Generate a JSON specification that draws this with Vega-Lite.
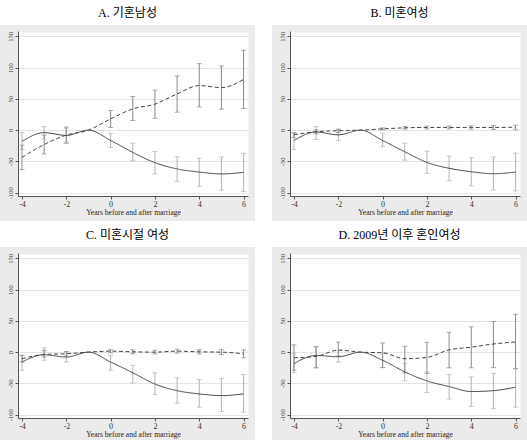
{
  "$schema": "https://vega.github.io/schema/vega-lite/v6.json",
  "background": "white",
  "padding": {"left": 0, "top": 7, "right": 0, "bottom": 0},
  "config": {
    "view": {"fill": "#ebebeb", "stroke": null},
    "title": {"font": "'Liberation Serif', 'Noto Sans CJK KR'", "fontSize": 12, "fontWeight": "normal", "color": "#000000", "offset": 5, "anchor": "middle"},
    "axis": {"labelFont": "Liberation Serif", "titleFont": "Liberation Serif"}
  },
  "data": {"values": [
    {"p":"A","s":"s1","x":-4,"est":-18,"lo":-31,"hi":-4},
    {"p":"A","s":"s1","x":-3,"est":-4,"lo":-14,"hi":6},
    {"p":"A","s":"s1","x":-2,"est":-8.5,"lo":-19,"hi":3},
    {"p":"A","s":"s1","x":-1,"est":0},
    {"p":"A","s":"s1","x":0,"est":-16.5,"lo":-27.7,"hi":-5},
    {"p":"A","s":"s1","x":1,"est":-35.6,"lo":-49,"hi":-21},
    {"p":"A","s":"s1","x":2,"est":-52,"lo":-70,"hi":-34},
    {"p":"A","s":"s1","x":3,"est":-62,"lo":-82,"hi":-42.5},
    {"p":"A","s":"s1","x":4,"est":-67,"lo":-90,"hi":-45},
    {"p":"A","s":"s1","x":5,"est":-70,"lo":-96,"hi":-43},
    {"p":"A","s":"s1","x":6,"est":-67.5,"lo":-98,"hi":-37},
    {"p":"A","s":"s2","x":-4,"est":-43.6,"lo":-63,"hi":-24},
    {"p":"A","s":"s2","x":-3,"est":-23,"lo":-38,"hi":-8},
    {"p":"A","s":"s2","x":-2,"est":-8,"lo":-21,"hi":5},
    {"p":"A","s":"s2","x":-1,"est":0},
    {"p":"A","s":"s2","x":0,"est":18,"lo":4.3,"hi":31.4},
    {"p":"A","s":"s2","x":1,"est":34,"lo":15.4,"hi":53.7},
    {"p":"A","s":"s2","x":2,"est":41.5,"lo":19,"hi":64},
    {"p":"A","s":"s2","x":3,"est":58,"lo":28.7,"hi":86.7},
    {"p":"A","s":"s2","x":4,"est":71.3,"lo":37,"hi":106.4},
    {"p":"A","s":"s2","x":5,"est":68,"lo":33.5,"hi":102.7},
    {"p":"A","s":"s2","x":6,"est":81,"lo":34.6,"hi":127.7},
    {"p":"B","s":"s1","x":-4,"est":-16.5,"lo":-31,"hi":-5},
    {"p":"B","s":"s1","x":-3,"est":-3,"lo":-15,"hi":6},
    {"p":"B","s":"s1","x":-2,"est":-7.5,"lo":-16.5,"hi":1},
    {"p":"B","s":"s1","x":-1,"est":0},
    {"p":"B","s":"s1","x":0,"est":-16.5,"lo":-26.6,"hi":-5},
    {"p":"B","s":"s1","x":1,"est":-34.6,"lo":-48,"hi":-21},
    {"p":"B","s":"s1","x":2,"est":-51.6,"lo":-69,"hi":-33.5},
    {"p":"B","s":"s1","x":3,"est":-61,"lo":-81,"hi":-41.5},
    {"p":"B","s":"s1","x":4,"est":-66.5,"lo":-89,"hi":-44},
    {"p":"B","s":"s1","x":5,"est":-69.7,"lo":-95.7,"hi":-43},
    {"p":"B","s":"s1","x":6,"est":-67,"lo":-97,"hi":-36.7},
    {"p":"B","s":"s2","x":-4,"est":-7.5,"lo":-12,"hi":-4},
    {"p":"B","s":"s2","x":-3,"est":-2.6,"lo":-6,"hi":0.5},
    {"p":"B","s":"s2","x":-2,"est":-1,"lo":-3.7,"hi":1.6},
    {"p":"B","s":"s2","x":-1,"est":0},
    {"p":"B","s":"s2","x":0,"est":2,"lo":0.5,"hi":3.7},
    {"p":"B","s":"s2","x":1,"est":3.7,"lo":1.6,"hi":5.8},
    {"p":"B","s":"s2","x":2,"est":4.3,"lo":2,"hi":6.4},
    {"p":"B","s":"s2","x":3,"est":4.3,"lo":2,"hi":6.6},
    {"p":"B","s":"s2","x":4,"est":4.3,"lo":1.6,"hi":7},
    {"p":"B","s":"s2","x":5,"est":4.3,"lo":1,"hi":7.4},
    {"p":"B","s":"s2","x":6,"est":4.8,"lo":0.5,"hi":8},
    {"p":"C","s":"s1","x":-4,"est":-15.8,"lo":-29,"hi":-5.3},
    {"p":"C","s":"s1","x":-3,"est":-4.2,"lo":-13,"hi":6.8},
    {"p":"C","s":"s1","x":-2,"est":-7.9,"lo":-15.8,"hi":0},
    {"p":"C","s":"s1","x":-1,"est":0},
    {"p":"C","s":"s1","x":0,"est":-15.8,"lo":-29,"hi":-5},
    {"p":"C","s":"s1","x":1,"est":-33,"lo":-49,"hi":-21},
    {"p":"C","s":"s1","x":2,"est":-51,"lo":-68,"hi":-33},
    {"p":"C","s":"s1","x":3,"est":-61.6,"lo":-81.5,"hi":-41},
    {"p":"C","s":"s1","x":4,"est":-66.8,"lo":-88,"hi":-43.7},
    {"p":"C","s":"s1","x":5,"est":-69.5,"lo":-94.7,"hi":-42},
    {"p":"C","s":"s1","x":6,"est":-66.8,"lo":-96,"hi":-35.8},
    {"p":"C","s":"s2","x":-4,"est":-10.5,"lo":-16,"hi":-5},
    {"p":"C","s":"s2","x":-3,"est":-3.7,"lo":-8,"hi":2.6},
    {"p":"C","s":"s2","x":-2,"est":-2.6,"lo":-6.3,"hi":1},
    {"p":"C","s":"s2","x":-1,"est":0},
    {"p":"C","s":"s2","x":0,"est":1.6,"lo":-1,"hi":4},
    {"p":"C","s":"s2","x":1,"est":0.5,"lo":-2.6,"hi":3.7},
    {"p":"C","s":"s2","x":2,"est":0,"lo":-3,"hi":3},
    {"p":"C","s":"s2","x":3,"est":1.6,"lo":-1.6,"hi":4.7},
    {"p":"C","s":"s2","x":4,"est":0.5,"lo":-3,"hi":4},
    {"p":"C","s":"s2","x":5,"est":0,"lo":-4,"hi":4},
    {"p":"C","s":"s2","x":6,"est":-2.6,"lo":-9,"hi":3.7},
    {"p":"D","s":"s1","x":-4,"est":-18.4,"lo":-33,"hi":-2.6},
    {"p":"D","s":"s1","x":-3,"est":-5.3,"lo":-25,"hi":8},
    {"p":"D","s":"s1","x":-2,"est":-7.4,"lo":-16,"hi":3},
    {"p":"D","s":"s1","x":-1,"est":0},
    {"p":"D","s":"s1","x":0,"est":-13,"lo":-24.7,"hi":-2.6},
    {"p":"D","s":"s1","x":1,"est":-31.6,"lo":-46,"hi":-18},
    {"p":"D","s":"s1","x":2,"est":-46,"lo":-64.7,"hi":-31.6},
    {"p":"D","s":"s1","x":3,"est":-55,"lo":-75,"hi":-35.8},
    {"p":"D","s":"s1","x":4,"est":-63,"lo":-87,"hi":-39.5},
    {"p":"D","s":"s1","x":5,"est":-61.6,"lo":-90.5,"hi":-34},
    {"p":"D","s":"s1","x":6,"est":-56,"lo":-88,"hi":-27},
    {"p":"D","s":"s2","x":-4,"est":-9,"lo":-29,"hi":11.6},
    {"p":"D","s":"s2","x":-3,"est":-6.8,"lo":-25,"hi":9},
    {"p":"D","s":"s2","x":-2,"est":3.2,"lo":-6,"hi":16},
    {"p":"D","s":"s2","x":-1,"est":0},
    {"p":"D","s":"s2","x":0,"est":-1,"lo":-24.7,"hi":14.7},
    {"p":"D","s":"s2","x":1,"est":-10.5,"lo":-33,"hi":9.5},
    {"p":"D","s":"s2","x":2,"est":-8.4,"lo":-34,"hi":15.8},
    {"p":"D","s":"s2","x":3,"est":3.7,"lo":-25,"hi":31.6},
    {"p":"D","s":"s2","x":4,"est":7.9,"lo":-25,"hi":40.5},
    {"p":"D","s":"s2","x":5,"est":13,"lo":-24.7,"hi":49},
    {"p":"D","s":"s2","x":6,"est":16.3,"lo":-26,"hi":60.5}
  ]},
  "columns": 2,
  "spacing": {"row": 26, "column": 17},
  "bounds": "flush",
  "concat": [
    {
      "title": "A. 기혼남성",
      "width": 255, "height": 196,
      "transform": [{"filter": "datum.p === 'A'"}],
      "resolve": {"axis": {"y": "independent"}},
      "layer": [
        {"mark": {"type": "rule", "strokeWidth": 1},
         "encoding": {
           "x": {"field": "x", "type": "quantitative", "scale": {"domain": [-4.18, 6.2], "range": [18, 248], "nice": false, "zero": false}},
           "y": {"field": "lo", "type": "quantitative", "scale": {"domain": [-105.3, 158.5], "range": [171, 6], "nice": false, "zero": false},
                 "axis": {"orient": "left", "offset": -18, "values": [26.6], "grid": true, "gridColor": "#ffffff", "gridWidth": 164, "domain": false, "ticks": false, "labels": false, "title": null}},
           "y2": {"field": "hi"},
           "color": {"field": "s", "type": "nominal", "scale": {"domain": ["s1", "s2"], "range": ["#b4b4b4", "#8a8a8a"]}, "legend": null}
         }},
        {"transform": [{"fold": ["lo", "hi"], "as": ["k", "v"]}],
         "mark": {"type": "tick", "orient": "horizontal", "size": 5, "thickness": 1},
         "encoding": {
           "x": {"field": "x", "type": "quantitative"},
           "y": {"field": "v", "type": "quantitative", "axis": null},
           "color": {"field": "s", "type": "nominal", "legend": null}
         }},
        {"mark": {"type": "line", "color": "#444444", "strokeWidth": 1, "interpolate": "monotone"},
         "encoding": {
           "x": {"field": "x", "type": "quantitative",
                 "axis": {"orient": "bottom", "offset": -25, "values": [-4,-2,0,2,4,6], "grid": false, "domainColor": "#555555", "tickColor": "#555555", "tickSize": 3, "labelFontSize": 8, "labelColor": "#333333", "labelPadding": 1, "labelFlush": false, "labelExpr": "'' + datum.value", "title": "Years before and after marriage", "titleFontSize": 7.5, "titleFontWeight": "normal", "titleColor": "#222222", "titlePadding": 0}},
           "y": {"field": "est", "type": "quantitative",
                 "axis": {"orient": "left", "offset": -18, "values": [-100, -50, 0, 50, 100, 150], "grid": true, "gridColor": "#e4e4e4", "gridWidth": 1, "domainColor": "#555555", "tickColor": "#555555", "tickSize": 3, "labelAngle": -90, "labelAlign": "center", "labelBaseline": "bottom", "labelFontSize": 6.5, "labelColor": "#333333", "labelPadding": 1.5, "labelFlush": false, "labelOverlap": false, "labelExpr": "'' + datum.value", "title": null}},
           "strokeDash": {"field": "s", "type": "nominal", "scale": {"domain": ["s1", "s2"], "range": [[1, 0], [4, 2.5]]}, "legend": null}
         }}
      ]
    },
    {
      "title": "B. 미혼여성",
      "width": 255, "height": 196,
      "transform": [{"filter": "datum.p === 'B'"}],
      "resolve": {"axis": {"y": "independent"}},
      "layer": [
        {"mark": {"type": "rule", "strokeWidth": 1},
         "encoding": {
           "x": {"field": "x", "type": "quantitative", "scale": {"domain": [-4.18, 6.2], "range": [18, 248], "nice": false, "zero": false}},
           "y": {"field": "lo", "type": "quantitative", "scale": {"domain": [-105.3, 158.5], "range": [171, 6], "nice": false, "zero": false},
                 "axis": {"orient": "left", "offset": -18, "values": [26.6], "grid": true, "gridColor": "#ffffff", "gridWidth": 164, "domain": false, "ticks": false, "labels": false, "title": null}},
           "y2": {"field": "hi"},
           "color": {"field": "s", "type": "nominal", "scale": {"domain": ["s1", "s2"], "range": ["#b4b4b4", "#8a8a8a"]}, "legend": null}
         }},
        {"transform": [{"fold": ["lo", "hi"], "as": ["k", "v"]}],
         "mark": {"type": "tick", "orient": "horizontal", "size": 5, "thickness": 1},
         "encoding": {
           "x": {"field": "x", "type": "quantitative"},
           "y": {"field": "v", "type": "quantitative", "axis": null},
           "color": {"field": "s", "type": "nominal", "legend": null}
         }},
        {"mark": {"type": "line", "color": "#444444", "strokeWidth": 1, "interpolate": "monotone"},
         "encoding": {
           "x": {"field": "x", "type": "quantitative",
                 "axis": {"orient": "bottom", "offset": -25, "values": [-4,-2,0,2,4,6], "grid": false, "domainColor": "#555555", "tickColor": "#555555", "tickSize": 3, "labelFontSize": 8, "labelColor": "#333333", "labelPadding": 1, "labelFlush": false, "labelExpr": "'' + datum.value", "title": "Years before and after marriage", "titleFontSize": 7.5, "titleFontWeight": "normal", "titleColor": "#222222", "titlePadding": 0}},
           "y": {"field": "est", "type": "quantitative",
                 "axis": {"orient": "left", "offset": -18, "values": [-100, -50, 0, 50, 100, 150], "grid": true, "gridColor": "#e4e4e4", "gridWidth": 1, "domainColor": "#555555", "tickColor": "#555555", "tickSize": 3, "labelAngle": -90, "labelAlign": "center", "labelBaseline": "bottom", "labelFontSize": 6.5, "labelColor": "#333333", "labelPadding": 1.5, "labelFlush": false, "labelOverlap": false, "labelExpr": "'' + datum.value", "title": null}},
           "strokeDash": {"field": "s", "type": "nominal", "scale": {"domain": ["s1", "s2"], "range": [[1, 0], [4, 2.5]]}, "legend": null}
         }}
      ]
    },
    {
      "title": "C. 미혼시절 여성",
      "width": 255, "height": 196,
      "transform": [{"filter": "datum.p === 'C'"}],
      "resolve": {"axis": {"y": "independent"}},
      "layer": [
        {"mark": {"type": "rule", "strokeWidth": 1},
         "encoding": {
           "x": {"field": "x", "type": "quantitative", "scale": {"domain": [-4.18, 6.2], "range": [18, 248], "nice": false, "zero": false}},
           "y": {"field": "lo", "type": "quantitative", "scale": {"domain": [-105.3, 158.5], "range": [171, 6], "nice": false, "zero": false},
                 "axis": {"orient": "left", "offset": -18, "values": [26.6], "grid": true, "gridColor": "#ffffff", "gridWidth": 164, "domain": false, "ticks": false, "labels": false, "title": null}},
           "y2": {"field": "hi"},
           "color": {"field": "s", "type": "nominal", "scale": {"domain": ["s1", "s2"], "range": ["#b4b4b4", "#8a8a8a"]}, "legend": null}
         }},
        {"transform": [{"fold": ["lo", "hi"], "as": ["k", "v"]}],
         "mark": {"type": "tick", "orient": "horizontal", "size": 5, "thickness": 1},
         "encoding": {
           "x": {"field": "x", "type": "quantitative"},
           "y": {"field": "v", "type": "quantitative", "axis": null},
           "color": {"field": "s", "type": "nominal", "legend": null}
         }},
        {"mark": {"type": "line", "color": "#444444", "strokeWidth": 1, "interpolate": "monotone"},
         "encoding": {
           "x": {"field": "x", "type": "quantitative",
                 "axis": {"orient": "bottom", "offset": -25, "values": [-4,-2,0,2,4,6], "grid": false, "domainColor": "#555555", "tickColor": "#555555", "tickSize": 3, "labelFontSize": 8, "labelColor": "#333333", "labelPadding": 1, "labelFlush": false, "labelExpr": "'' + datum.value", "title": "Years before and after marriage", "titleFontSize": 7.5, "titleFontWeight": "normal", "titleColor": "#222222", "titlePadding": 0}},
           "y": {"field": "est", "type": "quantitative",
                 "axis": {"orient": "left", "offset": -18, "values": [-100, -50, 0, 50, 100, 150], "grid": true, "gridColor": "#e4e4e4", "gridWidth": 1, "domainColor": "#555555", "tickColor": "#555555", "tickSize": 3, "labelAngle": -90, "labelAlign": "center", "labelBaseline": "bottom", "labelFontSize": 6.5, "labelColor": "#333333", "labelPadding": 1.5, "labelFlush": false, "labelOverlap": false, "labelExpr": "'' + datum.value", "title": null}},
           "strokeDash": {"field": "s", "type": "nominal", "scale": {"domain": ["s1", "s2"], "range": [[1, 0], [4, 2.5]]}, "legend": null}
         }}
      ]
    },
    {
      "title": "D. 2009년 이후 혼인여성",
      "width": 255, "height": 196,
      "transform": [{"filter": "datum.p === 'D'"}],
      "resolve": {"axis": {"y": "independent"}},
      "layer": [
        {"mark": {"type": "rule", "strokeWidth": 1},
         "encoding": {
           "x": {"field": "x", "type": "quantitative", "scale": {"domain": [-4.18, 6.2], "range": [18, 248], "nice": false, "zero": false}},
           "y": {"field": "lo", "type": "quantitative", "scale": {"domain": [-105.3, 158.5], "range": [171, 6], "nice": false, "zero": false},
                 "axis": {"orient": "left", "offset": -18, "values": [26.6], "grid": true, "gridColor": "#ffffff", "gridWidth": 164, "domain": false, "ticks": false, "labels": false, "title": null}},
           "y2": {"field": "hi"},
           "color": {"field": "s", "type": "nominal", "scale": {"domain": ["s1", "s2"], "range": ["#b4b4b4", "#8a8a8a"]}, "legend": null}
         }},
        {"transform": [{"fold": ["lo", "hi"], "as": ["k", "v"]}],
         "mark": {"type": "tick", "orient": "horizontal", "size": 5, "thickness": 1},
         "encoding": {
           "x": {"field": "x", "type": "quantitative"},
           "y": {"field": "v", "type": "quantitative", "axis": null},
           "color": {"field": "s", "type": "nominal", "legend": null}
         }},
        {"mark": {"type": "line", "color": "#444444", "strokeWidth": 1, "interpolate": "monotone"},
         "encoding": {
           "x": {"field": "x", "type": "quantitative",
                 "axis": {"orient": "bottom", "offset": -25, "values": [-4,-2,0,2,4,6], "grid": false, "domainColor": "#555555", "tickColor": "#555555", "tickSize": 3, "labelFontSize": 8, "labelColor": "#333333", "labelPadding": 1, "labelFlush": false, "labelExpr": "'' + datum.value", "title": "Years before and after marriage", "titleFontSize": 7.5, "titleFontWeight": "normal", "titleColor": "#222222", "titlePadding": 0}},
           "y": {"field": "est", "type": "quantitative",
                 "axis": {"orient": "left", "offset": -18, "values": [-100, -50, 0, 50, 100, 150], "grid": true, "gridColor": "#e4e4e4", "gridWidth": 1, "domainColor": "#555555", "tickColor": "#555555", "tickSize": 3, "labelAngle": -90, "labelAlign": "center", "labelBaseline": "bottom", "labelFontSize": 6.5, "labelColor": "#333333", "labelPadding": 1.5, "labelFlush": false, "labelOverlap": false, "labelExpr": "'' + datum.value", "title": null}},
           "strokeDash": {"field": "s", "type": "nominal", "scale": {"domain": ["s1", "s2"], "range": [[1, 0], [4, 2.5]]}, "legend": null}
         }}
      ]
    }
  ]
}
